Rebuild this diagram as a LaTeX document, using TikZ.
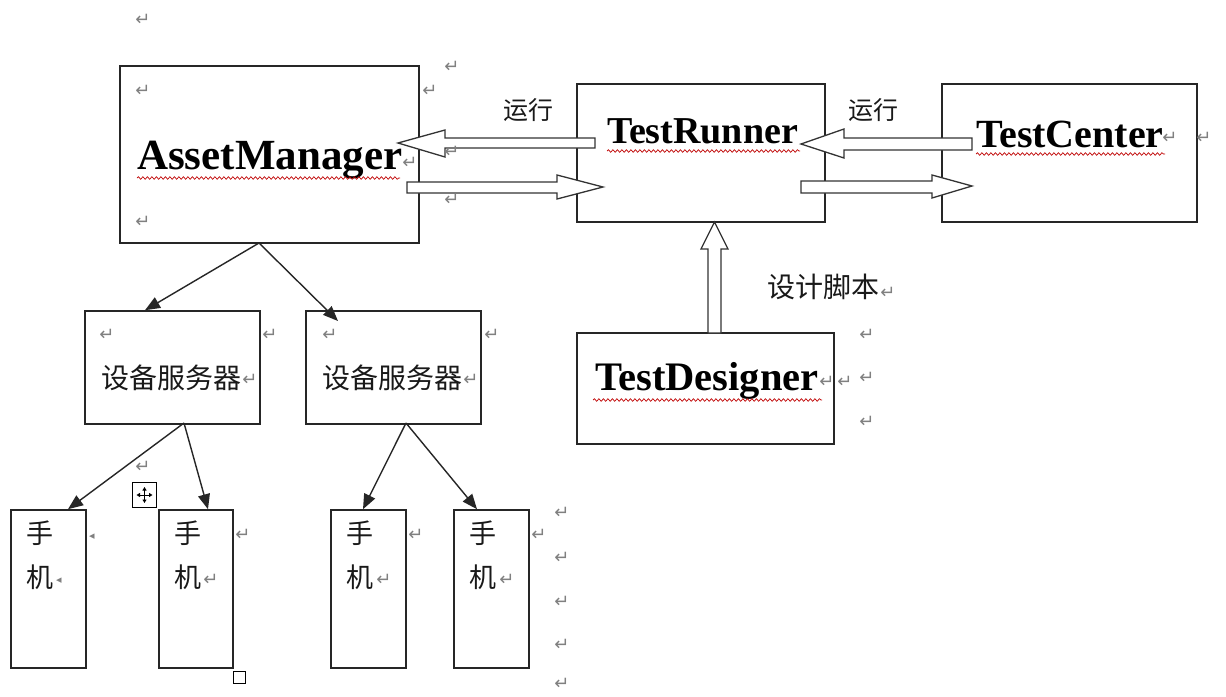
\documentclass[tikz,border=0pt]{standalone}
\usepackage{fontspec}
\setmainfont{Liberation Serif}
\newfontfamily\cjk{Noto Sans CJK SC}
\newfontfamily\dvs{DejaVu Sans}
\usetikzlibrary{arrows.meta,decorations.pathmorphing}
\begin{document}
\begin{tikzpicture}[x=1pt,y=-1pt,
  box/.style={draw=black!85, line width=1.6pt, fill=white, inner sep=0pt, rectangle},
  lat/.style={inner sep=0pt, anchor=base west, text=black},
  zh/.style={inner sep=0pt, font=\cjk\fontsize{#1}{#1}\selectfont, text=black!90},
  para/.style={inner sep=0pt, font=\dvs\fontsize{18}{18}\selectfont, text=black!50},
  blk/.style={draw=black!80, line width=1.3pt, fill=white, line join=miter},
  thin/.style={draw=black!85, line width=1.4pt, -{Triangle[length=15pt,width=12pt]}},
  wavy/.style={draw=red!75!black, line width=0.7pt, decorate, decoration={snake, amplitude=1.3pt, segment length=4.5pt}}]
\useasboundingbox (0,0) rectangle (1226,696);
\fill[white] (0,0) rectangle (1226,696);

% boxes
\node[box, minimum width=299pt, minimum height=177pt] (am) at (269.5,154.5) {};
\node[box, minimum width=248pt, minimum height=138pt] (tr) at (701,153) {};
\node[box, minimum width=255pt, minimum height=138pt] (tc) at (1069.5,153) {};
\node[box, minimum width=257pt, minimum height=111pt] (td) at (705.5,388.5) {};
\node[box, minimum width=175pt, minimum height=113pt] (ds1) at (172.5,367.5) {};
\node[box, minimum width=175pt, minimum height=113pt] (ds2) at (393.5,367.5) {};
\node[box, minimum width=75pt, minimum height=158pt] (ph1) at (48.5,589) {};
\node[box, minimum width=74pt, minimum height=158pt] (ph2) at (196,589) {};
\node[box, minimum width=75pt, minimum height=158pt] (ph3) at (368.5,589) {};
\node[box, minimum width=75pt, minimum height=158pt] (ph4) at (491.5,589) {};

% texts
\node[lat, font=\fontsize{43}{43}\selectfont\bfseries] (amt) at (137,169) {AssetManager};
\node[lat, font=\fontsize{38}{38}\selectfont\bfseries] (trt) at (607,143) {TestRunner};
\node[lat, font=\fontsize{40}{40}\selectfont\bfseries] (tct) at (976,147) {TestCenter};
\node[lat, font=\fontsize{40.5}{40.5}\selectfont\bfseries] (tdt) at (595,390) {TestDesigner};

\draw[wavy] (137,178) -- (400,178);
\draw[wavy] (607,151) -- (800,151);
\draw[wavy] (976,154) -- (1165,154);
\draw[wavy] (593,400) -- (822,400);

\node[zh=25] (yx1) at (528,110) {运行};
\node[zh=25] (yx2) at (873,110) {运行};
\node[zh=28] (sj) at (823,287) {设计脚本};
\node[zh=28] (ds1t) at (171,378) {设备服务器};
\node[zh=28] (ds2t) at (392,378) {设备服务器};
\node[zh=27] (s1) at (40.5,533) {手};
\node[zh=27] (j1) at (40.5,577) {机};
\node[zh=27] (s2) at (188,533) {手};
\node[zh=27] (j2) at (188,577) {机};
\node[zh=27] (s3) at (360,533) {手};
\node[zh=27] (j3) at (360,577) {机};
\node[zh=27] (s4) at (483,533) {手};
\node[zh=27] (j4) at (483,577) {机};

% thin arrows
\coordinate (amb) at (259,243);
\coordinate (ds1b) at (184,423);
\coordinate (ds2b) at (406,423);
\draw[thin] (amb) -- (ds1.north -| 145,0);
\draw[thin] (amb) -- (338,321);
\draw[thin] (ds1b) -- (ph1.north -| 68,0);
\draw[thin] (ds1b) -- (ph2.north -| 208,0);
\draw[thin] (ds2b) -- (ph3.north -| 363,0);
\draw[thin] (ds2b) -- (ph4.north -| 477,0);

% block arrows
\draw[blk] (595,138) -- (445,138) -- (445,130) -- (398,143) -- (445,157) -- (445,148) -- (595,148) -- cycle;
\draw[blk] (407,182) -- (557,182) -- (557,175) -- (603,187) -- (557,199) -- (557,193) -- (407,193) -- cycle;
\draw[blk] (972,138) -- (844,138) -- (844,129) -- (801,144) -- (844,158) -- (844,150) -- (972,150) -- cycle;
\draw[blk] (801,181) -- (932,181) -- (932,175) -- (972,186) -- (932,198) -- (932,193) -- (801,193) -- cycle;
\draw[blk] (708,333) -- (708,249) -- (701,249) -- (714.5,222) -- (728,249) -- (721,249) -- (721,333) -- cycle;

% move handle and sizing square
\node[draw=black, line width=1pt, fill=white, minimum width=24pt, minimum height=25pt, inner sep=0pt] (mh) at (144.5,495) {};
\draw[black, line width=0.9pt, {Triangle[length=3.5pt,width=4pt]}-{Triangle[length=3.5pt,width=4pt]}] ([xshift=-8pt]mh.center) -- ([xshift=8pt]mh.center);
\draw[black, line width=0.9pt, {Triangle[length=3.5pt,width=4pt]}-{Triangle[length=3.5pt,width=4pt]}] ([yshift=-8pt]mh.center) -- ([yshift=8pt]mh.center);
\node[draw=black, line width=1pt, fill=white, minimum width=12pt, minimum height=12pt, inner sep=0pt] (sq) at (239.5,677) {};

% paragraph marks
\foreach \i/\px/\py in {1/143/20, 2/452/67, 3/430/91, 4/143/91, 5/410/163, 6/452/152, 7/452/200, 8/143/222,
  9/1170/138, 10/1204/138, 11/888/293, 12/867/335, 13/827/382, 14/845/382, 15/867/378, 16/867/422,
  17/107/335, 18/270/335, 19/250/380, 20/330/335, 21/492/335, 22/471/380, 23/143/467,
  24/243/535, 25/211/580, 26/416/535, 27/384/580, 28/539/535, 29/507/580,
  30/562/513, 31/562/558, 32/562/602, 33/562/645, 34/562/684}
  \node[para] (p\i) at (\px,\py) {↵};
\node[para, font=\dvs\fontsize{11}{11}\selectfont] (p35) at (92,537) {◂};
\node[para, font=\dvs\fontsize{11}{11}\selectfont] (p36) at (59,581) {◂};
\end{tikzpicture}
\end{document}
